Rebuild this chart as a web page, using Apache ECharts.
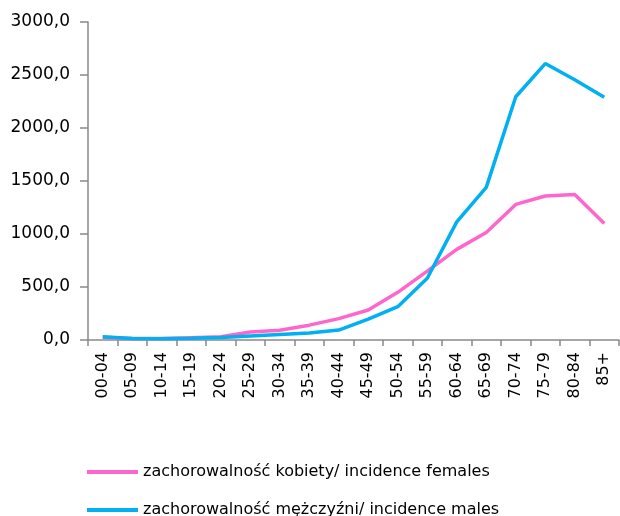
<!DOCTYPE html>
<html>
<head>
<meta charset="utf-8">
<script src="https://cdn.jsdelivr.net/npm/echarts@6/dist/echarts.min.js"></script>
<style>
  html, body { margin: 0; padding: 0; background: #fff; }
  #chart { width: 620px; height: 516px; }
</style>
</head>
<body>
<div id="chart"></div>
<script>
var ageGroups = ['00-04', '05-09', '10-14', '15-19', '20-24', '25-29', '30-34', '35-39', '40-44',
    '45-49', '50-54', '55-59', '60-64', '65-69', '70-74', '75-79', '80-84', '85+'];
var females = [25, 14, 14, 22, 30, 75, 92, 140, 202, 283, 450, 650, 855, 1015, 1279, 1358, 1372, 1100];
var males = [30, 14, 12, 16, 24, 38, 52, 65, 94, 196, 314, 582, 1114, 1440, 2295, 2608, 2455, 2289];
var yTicks = [0, 500, 1000, 1500, 2000, 2500, 3000];

var nameF = 'zachorowalność kobiety/ incidence females';
var nameM = 'zachorowalność mężczyźni/ incidence males';
var axisColor = '#898989';
var font = 'DejaVu Sans';

function legendAt(name, top) {
    return {
        left: 82,
        top: top,
        icon: 'rect',
        itemWidth: 51,
        itemHeight: 4,
        itemGap: 6,
        textStyle: { fontFamily: font, fontSize: 16, color: '#000' },
        data: [name]
    };
}

var option = {
    backgroundColor: '#ffffff',
    animation: false,
    textStyle: { fontFamily: font },
    grid: { left: 88, right: 1, top: 22, bottom: 176, containLabel: false },
    legend: [legendAt(nameF, 459), legendAt(nameM, 497)],
    xAxis: {
        type: 'category',
        data: ageGroups,
        boundaryGap: true,
        axisLine: { lineStyle: { color: axisColor, width: 1.5 } },
        axisTick: { show: true, length: 6, lineStyle: { color: axisColor, width: 1.5 } },
        axisLabel: { rotate: 90, margin: 12, interval: 0, fontSize: 16, color: '#000', fontFamily: font }
    },
    yAxis: {
        type: 'value',
        min: yTicks[0],
        max: yTicks[yTicks.length - 1],
        interval: 500,
        splitLine: { show: false },
        axisLine: { show: true, lineStyle: { color: axisColor, width: 1.5 } },
        axisTick: { show: true, length: 8, lineStyle: { color: axisColor, width: 1.5 } },
        axisLabel: {
            margin: 18,
            fontSize: 17,
            color: '#000',
            fontFamily: font,
            formatter: function (v) { return v.toFixed(1).replace('.', ','); }
        }
    },
    series: [
        {
            name: nameF,
            type: 'line',
            data: females,
            symbol: 'none',
            itemStyle: { color: '#ff66cc' },
            lineStyle: { color: '#ff66cc', width: 3.5 }
        },
        {
            name: nameM,
            type: 'line',
            data: males,
            symbol: 'none',
            itemStyle: { color: '#00b0f0' },
            lineStyle: { color: '#00b0f0', width: 3.5 }
        }
    ]
};

var chart = echarts.init(document.getElementById('chart'));
chart.setOption(option);
</script>
</body>
</html>
